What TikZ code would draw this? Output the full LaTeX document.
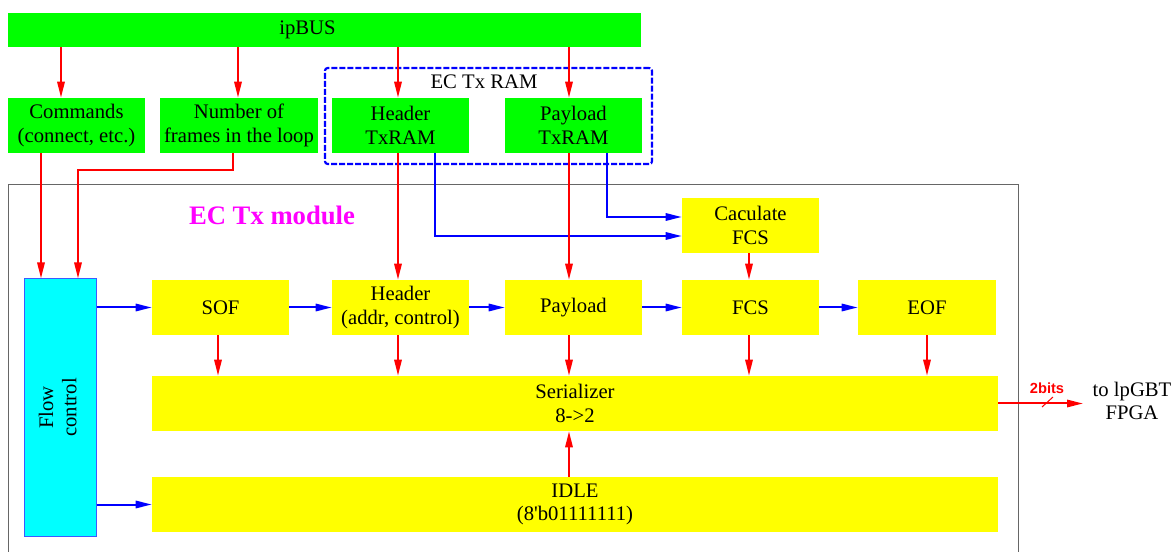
\documentclass[tikz,border=0pt]{standalone}
\usepackage{fontspec}
\setmainfont{Liberation Serif}
\newfontfamily\labsans{Liberation Sans}
\usepackage{graphicx}
\usetikzlibrary{arrows.meta}
\begin{document}
\begin{tikzpicture}[x=0.75pt,y=-0.75pt,
  txt/.style={font=\fontsize{15.5}{17.5}\selectfont, align=center},
  gbox/.style={txt, fill={rgb,255:red,0;green,255;blue,0}, inner sep=0pt, minimum width=102.75pt, minimum height=41.25pt},
  ybox/.style={txt, fill={rgb,255:red,255;green,255;blue,0}, inner sep=0pt, minimum width=102.75pt, minimum height=41.25pt},
  ra/.style={draw=red, line width=1.5pt, -{Triangle[length=12pt,width=5.5pt]}},
  ba/.style={draw=blue, line width=1.5pt, -{Triangle[length=12pt,width=5.5pt]}},
]
\useasboundingbox (0,0) rectangle (1172,552);

% lanes
\coordinate (x61) at (61,0);
\coordinate (x238) at (238,0);
\coordinate (x398) at (398,0);
\coordinate (x569) at (569,0);
\coordinate (x41) at (41,0);
\coordinate (x233) at (233,0);
\coordinate (x78) at (78,0);
\coordinate (x435) at (435,0);
\coordinate (x607) at (607,0);
\coordinate (x218) at (218,0);
\coordinate (x749) at (749,0);
\coordinate (x927) at (927,0);
\coordinate (y170) at (0,170);
\coordinate (y236) at (0,236);
\coordinate (y217) at (0,217);
\coordinate (out) at (1083,403.5);

% module frame
\draw[draw=black!60, line width=0.75pt] (8,553) -- (8,185) -- (1018,185) -- (1018,553);
\node[font=\bfseries\fontsize{20}{24}\selectfont, text={rgb,255:red,255;green,0;blue,255}] (mod) at (272,215) {EC Tx module};

% top boxes
\node[gbox, minimum width=474.75pt, minimum height=25.5pt] (ipbus) at (324.5,30) {ipBUS\hspace*{25.5pt}};
\node[gbox] (cmd) at (76.5,125.5) {Commands\\(connect, etc.)};
\node[gbox, minimum width=118.5pt] (num) at (239,125.5) {Number of\\frames in the loop};
\node[gbox] (htx) at (400.5,125.5) {Header\\TxRAM};
\node[gbox] (ptx) at (573.5,125.5) {Payload\\TxRAM};
\node[draw=blue, line width=1.6pt, dash pattern=on 4.5pt off 1.5pt, rounded corners=2pt, minimum width=245.25pt, minimum height=72pt, inner sep=0pt] (ram) at (488.5,116) {};
\node[txt] (ramlbl) at (484,82) {EC Tx RAM};

% module boxes
\node[txt, fill={rgb,255:red,0;green,255;blue,255}, draw={rgb,255:red,60;green,90;blue,255}, line width=0.75pt, inner sep=0pt, minimum width=54pt, minimum height=192.75pt] (flow) at (60,407.5) {\rotatebox{90}{\begin{tabular}{@{}c@{}}Flow\\control\end{tabular}}};
\node[ybox] (sof) at (220.5,307.5) {SOF};
\node[ybox] (hdr) at (400.5,307.5) {Header\\(addr, control)};
\node[ybox] (pay) at (573.5,307.5) {Payload};
\node[ybox] (fcs) at (750.5,307.5) {FCS};
\node[ybox, minimum width=103.5pt] (eof) at (927,307.5) {EOF};
\node[ybox] (cfcs) at (750.5,225.5) {Caculate\\FCS};
\node[ybox, minimum width=634.5pt] (ser) at (575,403.5) {Serializer\\8->2};
\node[ybox, minimum width=634.5pt] (idle) at (575,504.5) {IDLE\\(8\textquotesingle b01111111)};

% blue connectors
\draw[ba] (htx.south -| x435) -- (x435 |- y236) -- (cfcs.west |- y236);
\draw[ba] (ptx.south -| x607) -- (x607 |- y217) -- (cfcs.west |- y217);
\draw[ba] (flow.east |- sof.west) -- (sof.west);
\draw[ba] (sof.east) -- (hdr.west);
\draw[ba] (hdr.east) -- (pay.west);
\draw[ba] (pay.east) -- (fcs.west);
\draw[ba] (fcs.east) -- (eof.west);
\draw[ba] (flow.east |- idle.west) -- (idle.west);

% red connectors
\draw[ra] (ipbus.south -| x61) -- (cmd.north -| x61);
\draw[ra] (ipbus.south -| x238) -- (num.north -| x238);
\draw[ra] (ipbus.south -| x398) -- (htx.north -| x398);
\draw[ra] (ipbus.south -| x569) -- (ptx.north -| x569);
\draw[ra] (cmd.south -| x41) -- (flow.north -| x41);
\draw[ra] (num.south -| x233) -- (x233 |- y170) -- (x78 |- y170) -- (flow.north -| x78);
\draw[ra] (htx.south -| x398) -- (hdr.north -| x398);
\draw[ra] (ptx.south -| x569) -- (pay.north -| x569);
\draw[ra] (cfcs.south -| x749) -- (fcs.north -| x749);
\draw[ra] (sof.south -| x218) -- (ser.north -| x218);
\draw[ra] (hdr.south -| x398) -- (ser.north -| x398);
\draw[ra] (pay.south -| x569) -- (ser.north -| x569);
\draw[ra] (fcs.south -| x749) -- (ser.north -| x749);
\draw[ra] (eof.south -| x927) -- (ser.north -| x927);
\draw[ra] (idle.north -| x569) -- (ser.south -| x569);
\draw[ra] (ser.east) -- (out);
\draw[red, line width=0.75pt] (1042,407) -- (1053,397);
\node[font=\labsans\bfseries\fontsize{11}{13}\selectfont, text=red] (bits) at (1047,388) {2bits};
\node[txt] (tolp) at (1132,401) {to lpGBT\\FPGA};
\end{tikzpicture}
\end{document}
